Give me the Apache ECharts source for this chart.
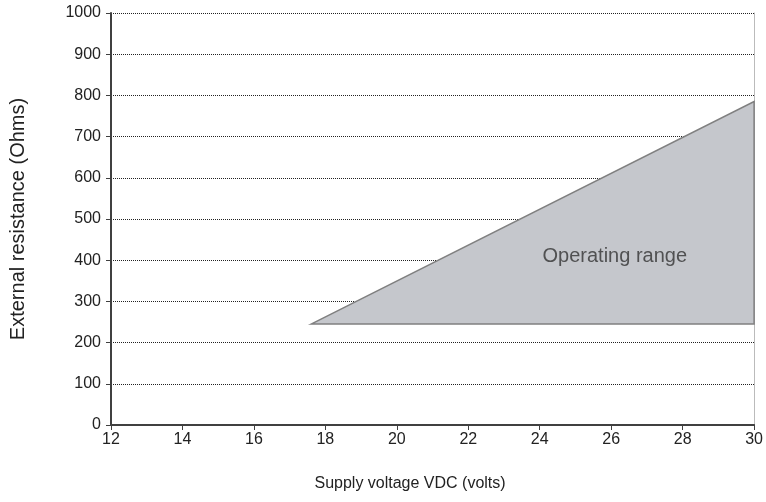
<!DOCTYPE html>
<html>
<head>
<meta charset="utf-8">
<script src="https://cdn.jsdelivr.net/npm/echarts@6/dist/echarts.min.js"></script>
<style>
  html, body { margin: 0; padding: 0; background: #fff; }
  #main { width: 766px; height: 502px; }
</style>
</head>
<body>
<div id="main"></div>
<script>
// operating region corners (volts, ohms)
const regionVolts = [17.6, 30, 30];
const regionOhms = [245, 785, 245];
// label position inside the region
const labelPoint = [26.1, 408];
const labelText = 'Operating range';

const chart = echarts.init(document.getElementById('main'));

const font = '"Liberation Sans", Arial, sans-serif';

const regionData = regionVolts.map((v, i) => [v, regionOhms[i]]);

chart.setOption({
  animation: false,
  grid: { left: 111, right: 10, top: 13, bottom: 77 },
  xAxis: {
    type: 'value',
    min: 12,
    max: 30,
    interval: 2,
    name: 'Supply voltage VDC (volts)',
    nameLocation: 'middle',
    nameGap: 51,
    nameTextStyle: { fontFamily: font, fontSize: 16, color: '#222', padding: [0, 45, 0, 0] },
    axisLine: { lineStyle: { color: '#404040', width: 2 } },
    axisTick: { length: 5, lineStyle: { color: '#404040' } },
    axisLabel: { fontFamily: font, fontSize: 16, color: '#222', margin: 7 },
    splitLine: { show: false }
  },
  yAxis: [{
    type: 'value',
    min: 0,
    max: 1000,
    interval: 100,
    name: 'External resistance (Ohms)',
    nameLocation: 'middle',
    nameGap: 83,
    nameTextStyle: { fontFamily: font, fontSize: 20, color: '#222' },
    axisLine: { show: true, lineStyle: { color: '#404040', width: 2 } },
    axisTick: { show: true, length: 5, lineStyle: { color: '#404040' } },
    axisLabel: { fontFamily: font, fontSize: 16, color: '#222', margin: 10, formatter: v => String(v) },
    splitLine: { show: true, lineStyle: { color: '#222', width: 1, type: [1, 1] } }
  }, {
    type: 'value',
    min: 0,
    max: 1000,
    position: 'right',
    axisLine: { show: true, lineStyle: { color: '#bbb', width: 1 } },
    axisTick: { show: false },
    axisLabel: { show: false },
    splitLine: { show: false }
  }],
  series: [{
    type: 'custom',
    renderItem: function (params, api) {
      if (params.dataIndex !== 0) return;
      const pts = regionData.map(p => api.coord(p));
      return {
        type: 'polygon',
        shape: { points: pts },
        style: { fill: '#c5c7cc', stroke: '#808080', lineWidth: 1.5 }
      };
    },
    data: regionData,
    silent: true
  }, {
    type: 'scatter',
    symbolSize: 0,
    data: [labelPoint],
    label: {
      show: true,
      position: 'inside',
      formatter: labelText,
      fontFamily: font,
      fontSize: 20,
      color: '#333'
    },
    silent: true
  }]
});
</script>
</body>
</html>
